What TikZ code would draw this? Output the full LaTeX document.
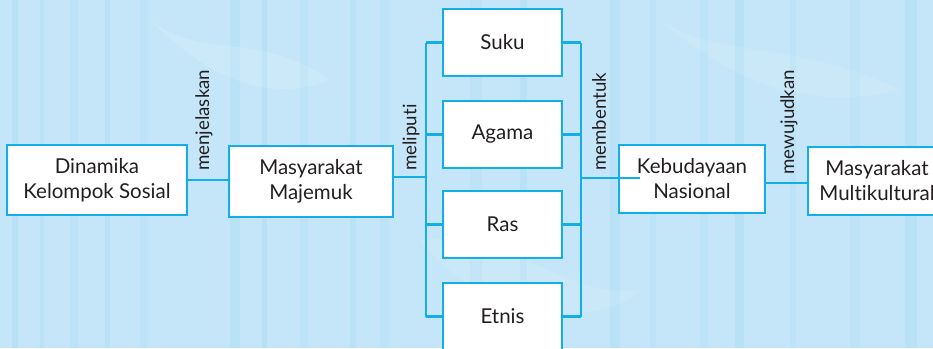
\documentclass[tikz,border=0pt]{standalone}
\usepackage{fontspec}
\setmainfont{Lato}[Ligatures=NoCommon]
\definecolor{bgblue}{HTML}{C4E6F8}
\definecolor{streak}{HTML}{9ED8F3}
\definecolor{linecyan}{HTML}{12AEE8}
\definecolor{txt}{HTML}{231F20}
\begin{document}
\begin{tikzpicture}[x=1pt,y=-1pt,
  box/.style={draw=linecyan,line width=2.6pt,fill=white,inner sep=0pt,align=center,
    font=\fontsize{20.5}{25}\selectfont,text=txt},
  conn/.style={draw=linecyan,line width=2.4pt},
  lbl/.style={rotate=90,anchor=west,inner sep=0pt,font=\fontsize{18.7}{20}\selectfont,text=txt}]
\useasboundingbox (0,0) rectangle (933,348);
\fill[bgblue] (0,0) rectangle (933,348);
% background streaks
\foreach \x/\w/\o in {12/6/0.3,40/4/0.25,70/8/0.2,105/5/0.25,140/7/0.2,230/10/0.25,262/5/0.3,300/8/0.2,350/6/0.25,380/9/0.2,470/12/0.15,520/7/0.25,610/10/0.25,650/6/0.2,700/8/0.2,735/9/0.3,790/6/0.2,850/10/0.15,905/12/0.25}
  \fill[streak,opacity=\o] (\x,0) rectangle ++(\w,348);
\fill[white,opacity=0.12] (150,20) .. controls (200,60) and (260,30) .. (330,80) .. controls (280,100) and (220,90) .. (150,20);
\fill[white,opacity=0.1] (420,240) .. controls (520,230) and (560,300) .. (640,290) .. controls (600,330) and (480,320) .. (420,240);
\fill[white,opacity=0.1] (660,20) .. controls (720,60) and (800,40) .. (900,90) .. controls (820,110) and (740,90) .. (660,20);

% nodes
\node[box,minimum width=180pt,minimum height=70pt] (b1) at (97,180) {Dinamika\\Kelompok Sosial};
\node[box,minimum width=164pt,minimum height=71pt] (b2) at (311,181.5) {Masyarakat\\Majemuk};
\node[box,minimum width=119pt,minimum height=67pt] (suku) at (502.5,42.5) {Suku};
\node[box,minimum width=119pt,minimum height=67pt] (agama) at (502.5,134.5) {Agama};
\node[box,minimum width=119pt,minimum height=67pt] (ras) at (502.5,224.5) {Ras};
\node[box,minimum width=119pt,minimum height=67pt] (etnis) at (502.5,316.5) {Etnis};
\node[box,minimum width=146pt,minimum height=68pt] (keb) at (692,179) {Kebudayaan\\Nasional};
\node[box,minimum width=138pt,minimum height=68pt] (multi) at (877,181) {Masyarakat\\Multikultural};

% bus coordinates
\coordinate (lb) at (426,177);
\coordinate (rb) at (581,178);
\coordinate (kin) at (640,178);

% connectors
\draw[conn] (b1.east) -- (b1.east -| b2.west);
\draw[conn] (b2.east |- lb) -- (lb);
\draw[conn] (lb |- suku) -- (lb |- etnis);
\foreach \n in {suku,agama,ras,etnis} {
  \draw[conn] (lb |- \n) -- (\n.west);
  \draw[conn] (\n.east) -- (rb |- \n);
}
\draw[conn] (rb |- suku) -- (rb |- etnis);
\draw[conn] (rb) -- (kin);
\draw[conn] (keb.east |- 0,183) -- (multi.west |- 0,183);

% labels
\node[lbl] (l1) at (204,171) {menjelaskan};
\node[lbl] (l2) at (411,171) {meliputi};
\node[lbl] (l3) at (599,171) {membentuk};
\node[lbl] (l4) at (789,175) {mewujudkan};
\end{tikzpicture}
\end{document}
